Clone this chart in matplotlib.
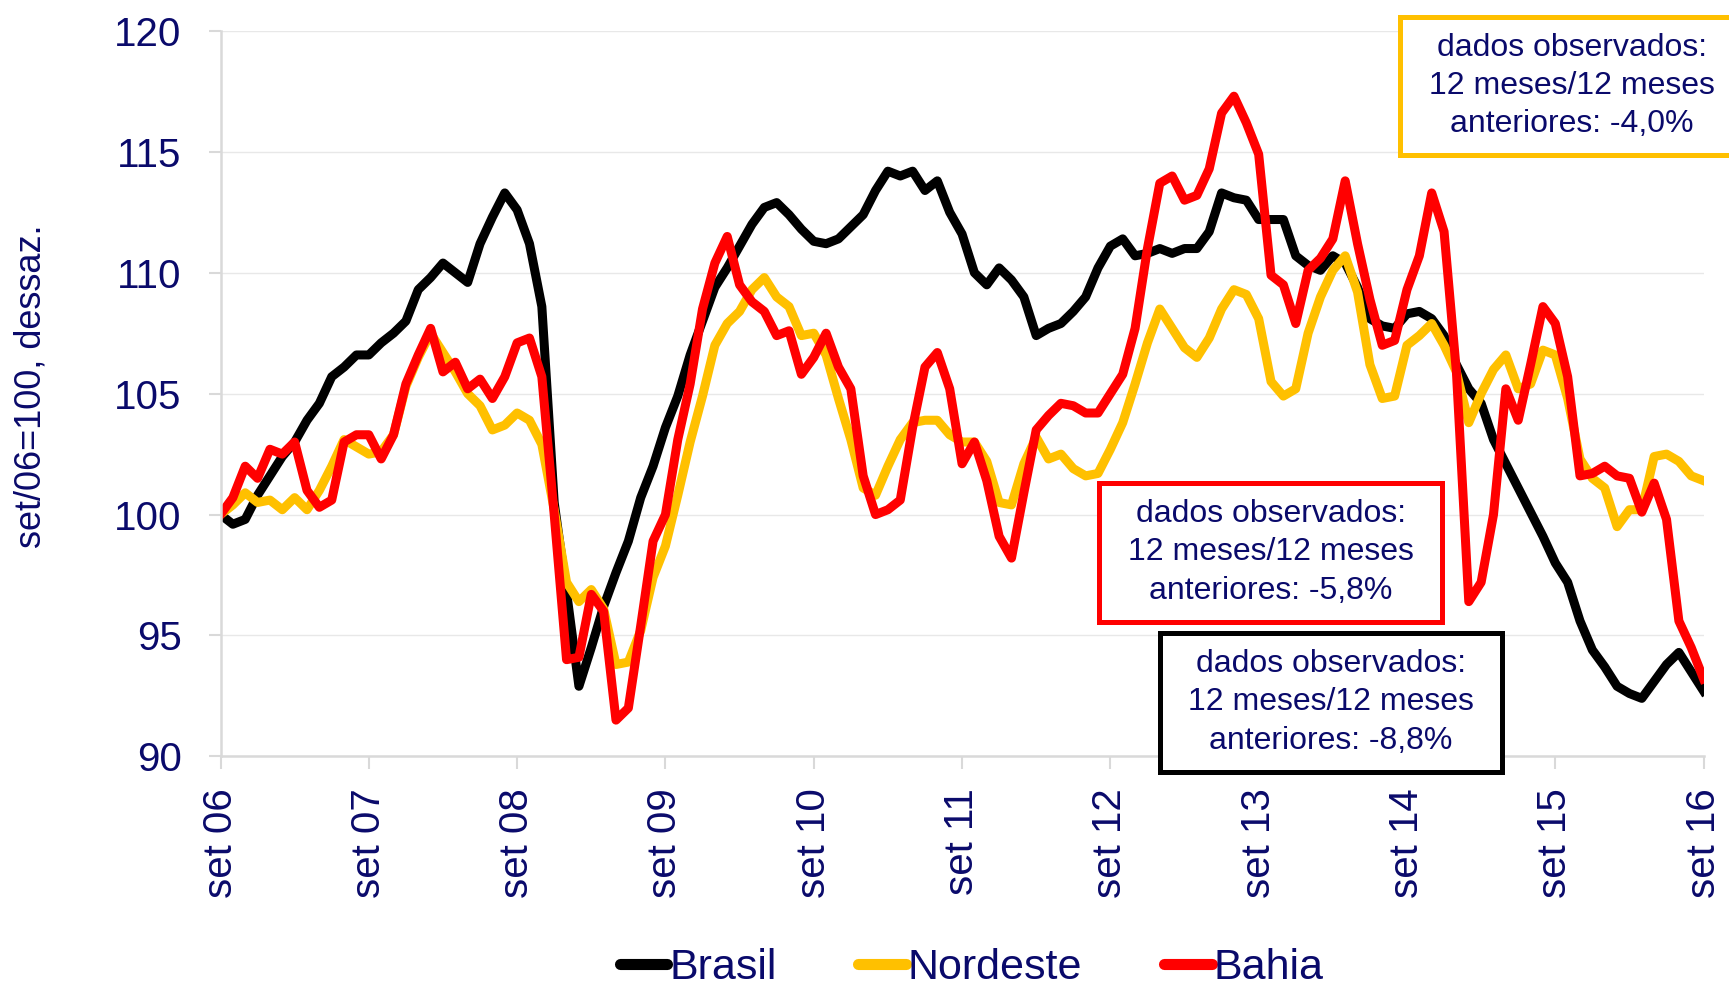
import matplotlib
matplotlib.use("Agg")
import matplotlib.pyplot as plt
from matplotlib.patches import Rectangle
import numpy as np

# indice set/06=100, meses de set/06 a set/16
brasil = [100.0, 99.6, 99.8, 100.8, 101.6, 102.4, 103.0, 103.9, 104.6, 105.7, 106.1, 106.6,
          106.6, 107.1, 107.5, 108.0, 109.3, 109.8, 110.4, 110.0, 109.6, 111.2, 112.3, 113.3,
          112.6, 111.2, 108.6, 100.5, 96.8, 92.9, 94.5, 96.2, 97.6, 98.9, 100.7, 102.0,
          103.6, 104.9, 106.6, 108.0, 109.4, 110.2, 111.1, 112.0, 112.7, 112.9, 112.4, 111.8,
          111.3, 111.2, 111.4, 111.9, 112.4, 113.4, 114.2, 114.0, 114.2, 113.4, 113.8, 112.5,
          111.6, 110.0, 109.5, 110.2, 109.7, 109.0, 107.4, 107.7, 107.9, 108.4, 109.0, 110.2,
          111.1, 111.4, 110.7, 110.8, 111.0, 110.8, 111.0, 111.0, 111.7, 113.3, 113.1, 113.0,
          112.2, 112.2, 112.2, 110.7, 110.3, 110.1, 110.7, 110.4, 109.4, 108.1, 107.8, 107.7,
          108.3, 108.4, 108.1, 107.4, 106.2, 105.2, 104.6, 103.1, 102.1, 101.1, 100.1, 99.1,
          98.0, 97.2, 95.6, 94.4, 93.7, 92.9, 92.6, 92.4, 93.1, 93.8, 94.3, 93.5,
          92.7]

nordeste = [100.0, 100.4, 100.9, 100.5, 100.6, 100.2, 100.7, 100.2, 101.0, 102.0, 103.1, 102.8,
            102.5, 102.6, 103.3, 105.3, 106.5, 107.5, 106.7, 105.9, 105.0, 104.5, 103.5, 103.7,
            104.2, 103.9, 102.9, 100.2, 97.2, 96.4, 96.9, 96.1, 93.8, 93.9, 95.2, 97.4,
            98.7, 100.8, 103.0, 104.9, 107.0, 107.9, 108.4, 109.3, 109.8, 109.0, 108.6, 107.4,
            107.5, 106.6, 104.8, 103.1, 101.1, 100.8, 102.0, 103.1, 103.8, 103.9, 103.9, 103.3,
            103.0, 103.0, 102.2, 100.5, 100.4, 102.1, 103.2, 102.3, 102.5, 101.9, 101.6, 101.7,
            102.7, 103.8, 105.4, 107.1, 108.5, 107.7, 106.9, 106.5, 107.3, 108.5, 109.3, 109.1,
            108.1, 105.5, 104.9, 105.2, 107.5, 109.0, 110.1, 110.7, 109.2, 106.2, 104.8, 104.9,
            107.0, 107.4, 107.9, 107.0, 105.9, 103.8, 105.0, 106.0, 106.6, 105.2, 105.4, 106.8,
            106.6, 104.8, 102.3, 101.5, 101.1, 99.5, 100.2, 100.2, 102.4, 102.5, 102.2, 101.6,
            101.4]

bahia = [100.0, 100.7, 102.0, 101.5, 102.7, 102.5, 103.0, 101.0, 100.3, 100.6, 103.0, 103.3,
         103.3, 102.3, 103.3, 105.4, 106.6, 107.7, 105.9, 106.3, 105.2, 105.6, 104.8, 105.7,
         107.1, 107.3, 105.7, 100.0, 94.0, 94.1, 96.7, 96.0, 91.5, 92.0, 95.4, 98.9,
         100.0, 103.1, 105.4, 108.5, 110.4, 111.5, 109.5, 108.8, 108.4, 107.4, 107.6, 105.8,
         106.5, 107.5, 106.1, 105.2, 101.6, 100.0, 100.2, 100.6, 103.6, 106.1, 106.7, 105.2,
         102.1, 103.0, 101.4, 99.1, 98.2, 100.9, 103.5, 104.1, 104.6, 104.5, 104.2, 104.2,
         105.0, 105.8, 107.7, 111.0, 113.7, 114.0, 113.0, 113.2, 114.3, 116.6, 117.3, 116.2,
         114.9, 109.9, 109.5, 107.9, 110.1, 110.6, 111.4, 113.8, 111.2, 108.9, 107.0, 107.2,
         109.3, 110.7, 113.3, 111.7, 105.9, 96.4, 97.2, 100.0, 105.2, 103.9, 106.2, 108.6,
         107.9, 105.7, 101.6, 101.7, 102.0, 101.6, 101.5, 100.1, 101.3, 99.8, 95.6, 94.5,
         93.2]

rotulos_x = ["set 06", "set 07", "set 08", "set 09", "set 10", "set 11",
             "set 12", "set 13", "set 14", "set 15", "set 16"]
rotulos_y = [90, 95, 100, 105, 110, 115, 120]

textos_caixa = ["dados observados:\n12 meses/12 meses\nanteriores: -4,0%",
                "dados observados:\n12 meses/12 meses\nanteriores: -5,8%",
                "dados observados:\n12 meses/12 meses\nanteriores: -8,8%"]

azul = "#0a0a6b"
cinza = "#d9d9d9"
fonte = "Liberation Sans"
W, H = 1729, 990

fig = plt.figure(figsize=(W / 100, H / 100), dpi=100)
ax = fig.add_axes([220.5 / W, 1 - 756.4 / H, (1703.6 - 220.5) / W, (756.4 - 30.9) / H])

meses = np.arange(len(brasil))
ax.plot(meses, brasil, color="black", lw=6.5, label="Brasil", solid_joinstyle="round")
ax.plot(meses, nordeste, color="#FFC000", lw=6.5, label="Nordeste", solid_joinstyle="round")
ax.plot(meses, bahia, color="#FF0000", lw=6.5, label="Bahia", solid_joinstyle="round")

ax.set_xlim(0, 120)
ax.set_ylim(90, 120)
ax.set_xticks(np.arange(0, 121, 12))
ax.set_xticklabels(rotulos_x, rotation=90, fontsize=29, color=azul, family=fonte)
ax.set_yticks(rotulos_y)
ax.set_yticklabels([str(v) for v in rotulos_y], fontsize=29, color=azul, family=fonte)
ax.tick_params(axis="x", length=9, width=1.5, color=cinza, pad=14)
ax.tick_params(axis="y", length=9, width=1.5, color=cinza, pad=19)
ax.grid(axis="y", color="#e8e8e8", lw=1)
ax.set_axisbelow(True)
for s in ["top", "right"]:
    ax.spines[s].set_visible(False)
for s in ["left", "bottom"]:
    ax.spines[s].set_color(cinza)
    ax.spines[s].set_linewidth(1.8)

fig.text(31 / W, 1 - 386 / H, "set/06=100, dessaz.", rotation=90, ha="center", va="center",
         fontsize=26, color=azul, family=fonte)

leg = fig.legend(loc="center", bbox_to_anchor=(0.562, 0.022), ncol=3, frameon=False,
                 handlelength=1.1, handletextpad=0.05, columnspacing=1.9,
                 prop={"family": fonte, "size": 31})
for t in leg.get_texts():
    t.set_color(azul)
for l in leg.get_lines():
    l.set_linewidth(8)
    l.set_solid_capstyle("round")

# caixas com texto (x0, y0, x1, y1 em pixels)
caixas = [(1400, 17, 1745, 155, "#FFC000"),
          (1099, 483, 1442, 622, "#FF0000"),
          (1160, 633, 1502, 772, "black")]
for (x0, y0, x1, y1, cor), txt in zip(caixas, textos_caixa):
    fig.add_artist(Rectangle((x0 / W, 1 - y1 / H), (x1 - x0) / W, (y1 - y0) / H,
                             transform=fig.transFigure, facecolor="white", edgecolor=cor,
                             lw=3.6, zorder=5, clip_on=False))
    cx = (x0 + x1) / 2
    if cor == "#FFC000":
        cx = 1572
    fig.text(cx / W, 1 - (y0 + y1) / 2 / H, txt, ha="center", va="center", fontsize=23,
             color=azul, family=fonte, linespacing=1.35, zorder=6)

fig.savefig("out.png", dpi=100, facecolor="white")
